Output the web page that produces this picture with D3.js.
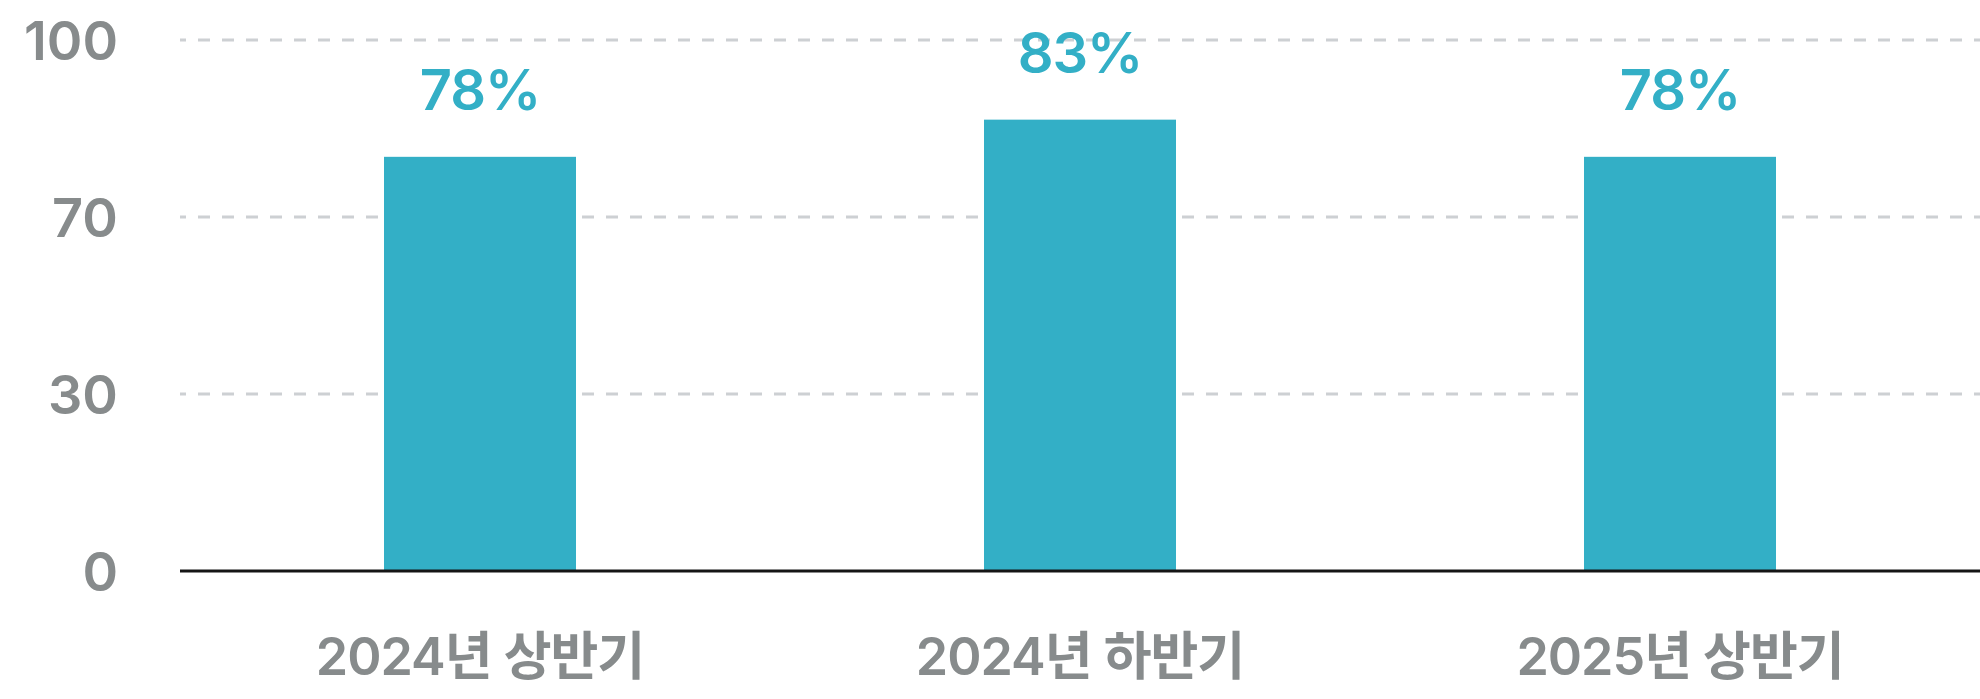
<!DOCTYPE html>
<html>
<head>
<meta charset="utf-8">
<script src="https://cdn.jsdelivr.net/npm/d3@7"></script>
<style>
  body { margin: 0; background: #fff; }
  text { font-family: Inter, "Noto Sans CJK KR", sans-serif; }
</style>
</head>
<body>
<div id="chart"></div>
<script>
// Data
const periods = ["2024년 상반기", "2024년 하반기", "2025년 상반기"];
const barValues = [78, 85, 78];
const valueLabels = ["78%", "83%", "78%"];
const yTickValues = [0, 100 / 3, 200 / 3, 100];
const yTickLabels = ["0", "30", "70", "100"];

const width = 1980, height = 699;
const margin = { top: 40, right: 0, bottom: 128, left: 180 };

const svg = d3.select("#chart")
    .append("svg")
    .attr("width", width)
    .attr("height", height);

// Scales
const xScale = d3.scaleBand()
    .domain(periods)
    .range([margin.left, width - margin.right])
    .paddingInner(0.68)
    .paddingOuter(0.34);

const yScale = d3.scaleLinear()
    .domain([0, 100])
    .range([height - margin.bottom, margin.top]);

// Grid lines (dashed)
svg.append("g")
    .selectAll("line")
    .data(yTickValues.slice(1))
    .join("line")
    .attr("x1", margin.left)
    .attr("x2", width - margin.right)
    .attr("y1", d => yScale(d))
    .attr("y2", d => yScale(d))
    .attr("stroke", "#cdd0d3")
    .attr("stroke-width", 3)
    .attr("stroke-dasharray", "12 12")
    .attr("stroke-dashoffset", 6);

// Y axis labels
const yAxis = d3.axisLeft(yScale)
    .tickValues(yTickValues)
    .tickFormat((d, i) => yTickLabels[i])
    .tickSize(0)
    .tickPadding(0);

svg.append("g")
    .attr("transform", "translate(118,0)")
    .call(yAxis)
    .call(g => g.select(".domain").remove())
    .selectAll("text")
    .attr("fill", "#878b8c")
    .attr("font-size", 54)
    .attr("font-weight", 600)
    .attr("dy", "0.37em")
    .style("font-family", "Inter, 'Noto Sans CJK KR', sans-serif");

// Bars
svg.append("g")
    .selectAll("rect")
    .data(barValues)
    .join("rect")
    .attr("x", (d, i) => xScale(periods[i]))
    .attr("width", xScale.bandwidth())
    .attr("y", d => yScale(d))
    .attr("height", d => yScale(0) - yScale(d))
    .attr("fill", "#33afc6");

// Value labels
svg.append("g")
    .selectAll("text")
    .data(barValues)
    .join("text")
    .attr("x", (d, i) => xScale(periods[i]) + xScale.bandwidth() / 2)
    .attr("y", d => yScale(d) - 47)
    .attr("text-anchor", "middle")
    .attr("fill", "#33afc6")
    .attr("font-size", 56)
    .attr("font-weight", 600)
    .attr("letter-spacing", -1)
    .text((d, i) => valueLabels[i]);

// Baseline
svg.append("line")
    .attr("x1", margin.left)
    .attr("x2", width - margin.right)
    .attr("y1", yScale(0))
    .attr("y2", yScale(0))
    .attr("stroke", "#151515")
    .attr("stroke-width", 3);

// X axis labels
const xAxis = d3.axisBottom(xScale).tickSize(0).tickPadding(0);

svg.append("g")
    .attr("transform", `translate(0,${yScale(0)})`)
    .call(xAxis)
    .call(g => g.select(".domain").remove())
    .selectAll("text")
    .attr("dy", null)
    .attr("y", 104)
    .attr("fill", "#878b8c")
    .attr("font-size", 52)
    .attr("font-weight", 600)
    .attr("letter-spacing", -1)
    .style("font-family", "Inter, 'Noto Sans CJK KR', sans-serif");
</script>
</body>
</html>
